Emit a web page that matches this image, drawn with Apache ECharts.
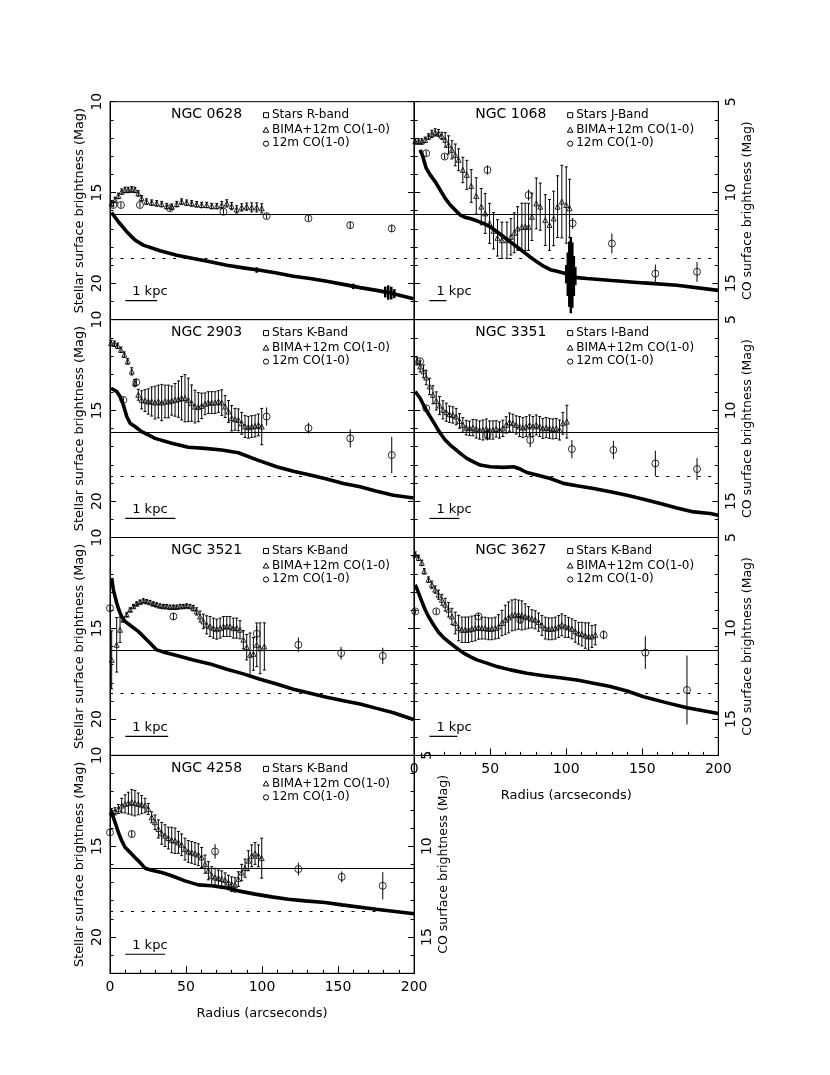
<!DOCTYPE html>
<html><head><meta charset="utf-8">
<script src="https://cdn.jsdelivr.net/npm/echarts@6/dist/echarts.min.js"></script>
<style>html,body{margin:0;padding:0;background:#fff}#c{width:830px;height:1075px}</style>
</head><body><div id="c"></div>
<script>
// ---------------- DATA ----------------
const galaxyNames = ['NGC 0628','NGC 1068','NGC 2903','NGC 3351','NGC 3521','NGC 3627','NGC 4258'];
const starBands = ['Stars R-band','Stars J-Band','Stars K-Band','Stars I-Band','Stars K-Band','Stars K-Band','Stars K-Band'];
const kpcArcsec = [21, 11.2, 33, 19.7, 28.3, 18.4, 26.3];
const xTicks = [0, 50, 100, 150, 200];
const stellarTicks = [10, 15, 20];
const coTicks = [5, 10, 15];
const solidMag = 16.2, dottedMag = 18.6, scaleBarMag = 20.95, scaleBarStart = 10;

// Stellar profiles [radius arcsec, mag]
const stars0628 = [[1,16.1],[2.2,16.24],[5.5,16.61],[11,17.16],[16.4,17.62],[21.9,17.9],[32.9,18.21],[43.9,18.45],[54.8,18.64],[65.8,18.82],[76.8,19.01],[87.7,19.15],[98.7,19.28],[109.6,19.43],[120.6,19.61],[131.6,19.74],[142.5,19.89],[153.5,20.06],[164.5,20.24],[175.4,20.39],[186.4,20.57],[199.6,20.85]];
const stars1068 = [[3.9,12.65],[5.7,13.02],[6.6,13.3],[7.9,13.66],[10.5,14.03],[13.8,14.4],[17.1,14.86],[20.4,15.32],[23.7,15.69],[27,15.97],[30.3,16.24],[33.6,16.37],[36.8,16.43],[41.2,16.56],[45.6,16.7],[50,16.89],[54.4,17.16],[58.8,17.44],[63.2,17.72],[67.5,17.99],[71.9,18.27],[76.3,18.55],[80.7,18.82],[85.1,19.06],[89.5,19.25],[93.9,19.34],[98.2,19.43],[102.6,19.56],[107,19.69],[113.6,19.74],[130,19.85],[150.9,19.98],[172.8,20.11],[200,20.39]];
const stars2903 = [[0.7,13.78],[4.4,13.96],[6.6,14.24],[8.8,14.7],[11,15.34],[13.2,15.71],[16.4,15.89],[20.8,16.17],[25.2,16.35],[29.6,16.54],[40.6,16.81],[51.5,17.03],[62.5,17.09],[73.5,17.18],[84.4,17.33],[97.6,17.75],[109.6,18.1],[120.6,18.35],[131.6,18.56],[142.5,18.78],[153.5,19.02],[164.5,19.21],[175.4,19.45],[186.4,19.67],[199.6,19.82]];
const stars3351 = [[0.7,13.96],[3.9,14.33],[7.2,14.88],[10.5,15.34],[13.8,15.8],[17.1,16.26],[20.4,16.63],[23.7,16.91],[27,17.13],[30.3,17.37],[34.6,17.64],[39,17.83],[43.4,18.01],[50,18.1],[58.8,18.14],[65.4,18.1],[69.7,18.23],[74.1,18.42],[80.7,18.56],[89.5,18.75],[98.2,19.02],[107,19.15],[118,19.3],[129,19.48],[140,19.67],[150.9,19.89],[161.8,20.13],[172.8,20.37],[183.8,20.59],[194.7,20.68],[200,20.77]];
const stars3521 = [[1.1,12.23],[2.2,12.87],[3.3,13.24],[4.4,13.61],[5.5,13.89],[6.6,14.16],[7.7,14.35],[9.9,14.62],[14.3,14.9],[18.6,15.17],[23,15.54],[27.4,15.91],[30.7,16.19],[36.2,16.33],[43.9,16.5],[54.8,16.74],[65.8,16.96],[76.8,17.26],[87.7,17.51],[98.7,17.81],[109.6,18.07],[120.6,18.36],[131.6,18.58],[142.5,18.8],[153.5,18.99],[164.5,19.17],[175.4,19.41],[186.4,19.65],[199.6,20.02]];
const stars3627 = [[0.7,12.6],[2.9,13.06],[5,13.52],[7.2,13.98],[9.4,14.35],[12.7,14.81],[16,15.22],[19.3,15.51],[23.7,15.82],[28.1,16.1],[32.5,16.37],[36.8,16.56],[41.2,16.74],[47.8,16.92],[54.4,17.11],[63.2,17.29],[74.1,17.48],[85.1,17.61],[96,17.72],[107,17.85],[118,18.03],[129,18.2],[140,18.45],[150.9,18.77],[165,19.08],[179.4,19.38],[200,19.69]];
const stars4258 = [[0.7,13.13],[2.2,13.41],[3.7,13.78],[5.5,14.24],[7.7,14.7],[9.9,15.06],[13.2,15.34],[16.4,15.62],[19.7,15.89],[23,16.21],[27.4,16.32],[34,16.45],[40.6,16.63],[49.3,16.91],[58.1,17.13],[66.9,17.18],[75.7,17.28],[84.4,17.46],[95.4,17.64],[106.4,17.79],[117.3,17.92],[128.3,18.01],[141.4,18.1],[152.4,18.23],[175,18.47],[200,18.72]];

// Stellar profile error bars [radius, mag, err]
const starErr0628 = [[96.5,19.27,0.15],[160,20.17,0.15],[181,20.48,0.3],[183,20.51,0.4],[185,20.54,0.35],[187,20.57,0.25]];
const starErr1068 = [[100,19.5,0.5],[101,19.5,1.2],[102,19.5,1.8],[103,19.55,2.1],[104,19.55,1.8],[105,19.6,1.1],[106,19.6,0.5]];

// BIMA+12m CO(1-0) [radius, CO mag, err]
const bima0628 = [[1.1,10.6,0.15],[3.3,10.41,0.15],[5.5,10.19,0.15],[7.7,9.95,0.15],[9.9,9.86,0.15],[12,9.86,0.15],[14.3,9.83,0.15],[16.4,9.86,0.15],[18.6,10.05,0.15],[20.8,10.32,0.15],[24,10.5,0.15],[27.4,10.56,0.15],[30.7,10.6,0.15],[34,10.64,0.15],[37.3,10.75,0.15],[40.6,10.78,0.15],[43.9,10.64,0.15],[47.1,10.5,0.15],[50.4,10.56,0.15],[53.7,10.6,0.15],[57,10.65,0.15],[60.3,10.69,0.15],[63.6,10.69,0.15],[66.9,10.75,0.15],[70.2,10.75,0.15],[73.5,10.69,0.2],[76.8,10.6,0.2],[80,10.75,0.2],[83.3,10.93,0.2],[86.6,10.82,0.2],[89.9,10.78,0.2],[93.2,10.82,0.25],[96.5,10.82,0.25],[99.8,10.87,0.25]];
const bima1068 = [[0.7,7.19,0.15],[2.9,7.19,0.15],[5,7.19,0.15],[7.2,7.1,0.15],[9.4,6.92,0.15],[11.6,6.77,0.2],[13.8,6.69,0.2],[16,6.73,0.2],[18.2,6.88,0.2],[20.4,7.1,0.4],[22.6,7.38,0.5],[24.8,7.65,0.5],[27,7.93,0.6],[29.2,8.2,0.6],[32,8.76,0.7],[34.6,9.03,0.8],[37.5,9.64,0.9],[40.8,10.19,1.0],[44.1,10.78,1.0],[46.7,11.15,1.1],[49.6,11.7,1.1],[52.2,12.11,1.0],[54.8,12.5,1.0],[57.7,12.63,1.0],[61,12.63,1.0],[63.6,12.44,1.0],[65.8,12.22,1.1],[68,11.98,1.2],[70.8,11.89,1.3],[73,11.89,1.3],[75.2,11.89,1.3],[77.4,11.34,1.3],[80.3,10.6,1.4],[82.9,10.78,1.3],[86.2,11.52,1.4],[89,11.79,1.4],[91.7,11.43,1.5],[94.3,10.78,1.7],[97.1,10.5,2.0],[100,10.69,2.1],[102.2,10.87,1.6]];
const bima2903 = [[0.7,6.29,0.15],[2.9,6.33,0.15],[5,6.44,0.15],[7.2,6.66,0.15],[9.4,6.93,0.15],[11.6,7.3,0.15],[14.3,7.85,0.2],[16.4,8.5,0.2],[18.6,9.14,0.3],[20.8,9.42,0.5],[23,9.46,0.6],[25.2,9.51,0.7],[27.4,9.51,0.8],[29.6,9.57,0.9],[31.8,9.51,0.9],[34,9.57,1.0],[36.2,9.51,0.9],[38.4,9.51,0.9],[40.6,9.46,0.8],[42.8,9.42,0.9],[45,9.38,1.0],[47.1,9.33,1.2],[49.3,9.33,1.3],[51.5,9.42,1.2],[53.7,9.6,1.0],[55.9,9.79,0.9],[58.1,9.82,0.8],[60.3,9.75,0.7],[62.5,9.64,0.6],[64.7,9.57,0.6],[66.9,9.57,0.6],[69.1,9.57,0.6],[71.3,9.51,0.6],[73.5,9.57,0.7],[75.7,9.79,0.6],[77.9,10.06,0.6],[80,10.43,0.7],[82.2,10.49,0.6],[84.4,10.52,0.6],[86.6,10.71,0.6],[88.8,10.89,0.6],[91,10.93,0.6],[93.2,10.89,0.6],[95.4,10.86,0.6],[97.6,10.8,0.6],[99.8,10.89,1.0]];
const bima3351 = [[1.8,7.3,0.2],[3.9,7.58,0.3],[6.1,7.85,0.35],[7.9,8.19,0.4],[10.1,8.68,0.45],[12.3,9.14,0.5],[14.5,9.48,0.5],[16.7,9.73,0.5],[18.9,9.97,0.5],[21.1,10.1,0.5],[23.2,10.21,0.45],[25.4,10.25,0.45],[27.6,10.34,0.45],[29.8,10.58,0.4],[32,10.8,0.4],[34.2,10.95,0.4],[36.4,10.99,0.4],[38.6,10.95,0.45],[40.8,11.02,0.5],[43,11.08,0.5],[45.2,11.08,0.55],[47.4,11.02,0.55],[49.6,11.08,0.5],[51.8,11.08,0.5],[53.9,11.02,0.45],[56.1,11.08,0.45],[58.3,10.99,0.45],[60.5,10.8,0.45],[62.7,10.65,0.5],[64.9,10.71,0.5],[67.1,10.8,0.5],[69.3,10.89,0.55],[71.5,10.95,0.55],[73.7,10.89,0.55],[75.9,10.8,0.55],[78.1,10.89,0.55],[80.3,10.8,0.55],[82.5,10.89,0.55],[84.6,10.99,0.55],[86.8,10.95,0.55],[89,10.99,0.55],[91.2,11.02,0.55],[93.4,11.0,0.55],[95.6,11.08,0.55],[97.8,10.71,0.6],[100.4,10.62,0.9]];
const bima3521 = [[1.1,11.74,1.6],[4.4,10.91,1.5],[6.6,10.08,0.7],[8.8,9.53,0.1],[11,9.25,0.1],[13.2,8.98,0.1],[15.4,8.79,0.1],[17.5,8.65,0.1],[19.7,8.55,0.1],[21.9,8.48,0.1],[24.1,8.52,0.1],[26.3,8.57,0.1],[28.5,8.65,0.1],[30.7,8.7,0.1],[32.9,8.76,0.1],[35.1,8.79,0.1],[37.3,8.79,0.1],[39.5,8.83,0.1],[41.7,8.83,0.1],[43.9,8.83,0.1],[46.1,8.79,0.1],[48.2,8.79,0.1],[50.4,8.76,0.1],[52.6,8.79,0.1],[54.8,8.89,0.15],[57,9.07,0.2],[59.2,9.35,0.3],[61.4,9.62,0.4],[63.6,9.81,0.5],[65.8,9.9,0.55],[68,9.99,0.55],[70.2,10.05,0.55],[72.4,9.99,0.55],[74.6,9.9,0.55],[76.8,9.9,0.55],[78.9,9.9,0.55],[81.1,9.99,0.55],[83.3,9.99,0.55],[85.5,10.08,0.5],[87.7,10.63,0.5],[89.9,11.04,0.7],[92.1,11.46,1.2],[94.3,11.41,0.9],[96.5,10.91,1.2],[98.7,11.1,1.4],[101.5,11.0,1.3]];
const bima3627 = [[0.7,5.94,0.15],[2.9,6.12,0.15],[5,6.4,0.15],[6.6,6.86,0.15],[9.4,7.32,0.15],[11.6,7.6,0.2],[13.8,7.87,0.2],[16,8.15,0.25],[18.2,8.43,0.3],[20.4,8.7,0.35],[22.6,8.98,0.4],[24.8,9.35,0.45],[27,9.71,0.6],[29.2,9.99,0.7],[31.4,10.08,0.7],[33.6,10.08,0.7],[35.7,10.08,0.7],[37.9,10.03,0.7],[40.1,9.99,0.7],[42.3,9.95,0.65],[44.5,9.99,0.6],[46.7,9.99,0.6],[48.9,10.03,0.6],[51.1,10.03,0.6],[53.3,9.99,0.6],[55.5,9.9,0.65],[57.7,9.71,0.7],[59.9,9.53,0.8],[62.1,9.4,0.85],[64.3,9.29,0.85],[66.4,9.25,0.85],[68.6,9.25,0.8],[70.8,9.29,0.8],[73,9.35,0.7],[75.2,9.4,0.6],[77.4,9.48,0.5],[79.6,9.53,0.5],[81.8,9.66,0.5],[84,9.84,0.55],[86.2,9.99,0.6],[88.4,10.03,0.6],[90.6,10.03,0.6],[92.8,9.99,0.6],[95,9.9,0.6],[97.1,9.81,0.6],[99.3,9.9,0.6],[101.5,9.95,0.55],[103.7,10.03,0.55],[105.9,10.17,0.6],[108.1,10.27,0.6],[110.3,10.32,0.65],[112.5,10.4,0.7],[114.7,10.45,0.75],[116.9,10.45,0.6],[119.1,10.36,0.55]];
const bima4258 = [[1.1,8.13,0.2],[3.3,8.08,0.2],[5.5,7.95,0.25],[7.7,7.76,0.4],[9.9,7.67,0.5],[12.1,7.63,0.6],[14.3,7.58,0.7],[16.4,7.63,0.7],[18.6,7.67,0.6],[20.8,7.71,0.5],[23,7.76,0.4],[25.2,7.95,0.3],[27.4,8.41,0.3],[29.6,8.68,0.4],[31.8,9.05,0.5],[34,9.29,0.6],[36.2,9.42,0.6],[38.4,9.55,0.6],[40.6,9.66,0.7],[42.8,9.7,0.7],[45,9.79,0.6],[47.1,9.92,0.6],[49.3,10.16,0.6],[51.5,10.29,0.6],[53.7,10.34,0.6],[55.9,10.4,0.6],[58.1,10.47,0.6],[60.3,10.62,0.55],[62.5,10.99,0.5],[64.7,11.35,0.5],[66.9,11.63,0.5],[69.1,11.72,0.5],[71.3,11.76,0.45],[73.5,11.81,0.45],[75.7,11.87,0.4],[77.9,12.0,0.4],[80,12.09,0.4],[82.2,12.13,0.4],[84.4,11.81,0.4],[86.6,11.45,0.45],[88.8,11.21,0.5],[91,10.8,0.55],[93.2,10.53,0.6],[95.4,10.4,0.6],[97.6,10.53,0.6],[99.8,10.66,1.1]];

// 12m CO(1-0) [radius, CO mag, err]
const co12m0628 = [[2.2,10.69,0.15],[7.2,10.69,0.15],[19.7,10.69,0.15],[39.5,10.87,0.15],[74.6,11.06,0.15],[103,11.3,0.15],[130.5,11.43,0.15],[158,11.8,0.2],[185.3,11.98,0.2]];
const co12m1068 = [[7.9,7.84,0.15],[20,8.02,0.15],[48.2,8.76,0.25],[75.2,10.14,0.3],[104.2,11.7,0.3],[130,12.81,0.55],[158.6,14.47,0.5],[186,14.37,0.55]];
const co12m2903 = [[8.8,9.42,0.15],[17.3,8.45,0.2],[103,10.34,0.5],[130.5,10.98,0.3],[158,11.54,0.5],[185.3,12.46,1.0]];
const co12m3351 = [[3.9,7.3,0.15],[7.9,9.88,0.15],[48.2,11.35,0.3],[76.3,11.63,0.4],[103.7,12.13,0.5],[131,12.18,0.5],[158.6,12.92,0.7],[186,13.23,0.6]];
const co12m3521 = [[0,8.89,0.15],[41.7,9.35,0.2],[96.5,10.3,0.4],[123.9,10.91,0.4],[152,11.37,0.35],[179.4,11.52,0.45]];
const co12m3627 = [[0.7,9.07,0.15],[14.5,9.07,0.15],[42.3,9.35,0.2],[69.7,9.53,0.2],[124.6,10.36,0.25],[152,11.34,0.9],[179.4,13.4,1.9]];
const co12m4258 = [[0,9.24,0.15],[14.3,9.33,0.2],[69.1,10.29,0.4],[123.9,11.26,0.35],[152.4,11.69,0.3],[179.4,12.18,0.75]];

const starsAll = [stars0628, stars1068, stars2903, stars3351, stars3521, stars3627, stars4258];
const starErrAll = [starErr0628, starErr1068, [], [], [], [], []];
const bimaAll = [bima0628, bima1068, bima2903, bima3351, bima3521, bima3627, bima4258];
const co12mAll = [co12m0628, co12m1068, co12m2903, co12m3351, co12m3521, co12m3627, co12m4258];

// ---------------- LAYOUT ----------------
const FONT = 'DejaVu Sans';
const colLeft = [110, 414.2];
const rowTop = [101.7, 319.6, 537.5, 755.4];
const PW = 304.1, PH = 217.9;
const panelPos = [[0,0],[1,0],[0,1],[1,1],[0,2],[1,2],[0,3]];
const bottomPanels = [5, 6];

function errRender(lw, cap) {
  return function (params, api) {
    const x = api.value(0), y = api.value(1), e = api.value(2);
    const a = api.coord([x, y - e]), b = api.coord([x, y + e]);
    const st = { stroke: '#000', lineWidth: lw };
    const ch = [{ type: 'line', shape: { x1: a[0], y1: a[1], x2: b[0], y2: b[1] }, style: st }];
    if (cap > 0) {
      ch.push({ type: 'line', shape: { x1: a[0] - cap, y1: a[1], x2: a[0] + cap, y2: a[1] }, style: st });
      ch.push({ type: 'line', shape: { x1: b[0] - cap, y1: b[1], x2: b[0] + cap, y2: b[1] }, style: st });
    }
    return { type: 'group', children: ch };
  };
}

const grids = [], xAxes = [], yAxes = [], series = [], scaleIdx = [];
const tickStyle = { color: '#000', width: 1 };

galaxyNames.forEach((g, i) => {
  const [c, r] = panelPos[i];
  const bottom = bottomPanels.includes(i);
  grids.push({ left: colLeft[c], top: rowTop[r], width: PW, height: PH, show: true, borderColor: '#000', borderWidth: 1, backgroundColor: 'transparent' });
  xAxes.push({
    gridIndex: i, type: 'value', min: xTicks[0], max: xTicks[xTicks.length - 1], interval: xTicks[1] - xTicks[0],
    axisLine: { show: true, lineStyle: tickStyle },
    axisTick: { show: bottom, inside: true, length: 7, lineStyle: tickStyle },
    minorTick: { show: bottom, splitNumber: 5, length: 3.5, lineStyle: tickStyle },
    splitLine: { show: false },
    axisLabel: { show: bottom, margin: 7, fontSize: 14, color: '#000', fontFamily: FONT },
    name: bottom ? 'Radius (arcseconds)' : '', nameLocation: 'middle', nameGap: 34,
    nameTextStyle: { fontSize: 13, color: '#000', fontFamily: FONT }
  });
  const leftLabels = c === 0;
  const rightLabels = c === 1 || i === 6;
  yAxes.push({
    gridIndex: i, type: 'value', inverse: true, position: 'left',
    min: stellarTicks[0], max: 22, interval: stellarTicks[1] - stellarTicks[0],
    axisLine: { show: true, lineStyle: tickStyle },
    axisTick: { show: true, inside: true, length: 6, lineStyle: tickStyle },
    minorTick: { show: true, splitNumber: 5, length: 3.5, lineStyle: tickStyle },
    splitLine: { show: false },
    axisLabel: { show: leftLabels, showMaxLabel: false, rotate: 90, margin: 6, fontSize: 14, color: '#000', fontFamily: FONT,
      formatter: v => stellarTicks.includes(v) ? String(v) : '' },
    name: leftLabels ? 'Stellar surface brightness (Mag)' : '', nameLocation: 'middle', nameGap: 24,
    nameTextStyle: { fontSize: 12.8, color: '#000', fontFamily: FONT }
  });
  yAxes.push({
    gridIndex: i, type: 'value', inverse: true, position: 'right',
    min: coTicks[0], max: 17, interval: coTicks[1] - coTicks[0],
    axisLine: { show: true, lineStyle: tickStyle },
    axisTick: { show: true, inside: true, length: 6, lineStyle: tickStyle },
    minorTick: { show: true, splitNumber: 5, length: 3.5, lineStyle: tickStyle },
    splitLine: { show: false },
    axisLabel: { show: rightLabels, showMaxLabel: false, rotate: 90, margin: 6, fontSize: 14, color: '#000', fontFamily: FONT,
      formatter: v => coTicks.includes(v) ? String(v) : '' },
    name: rightLabels ? 'CO surface brightness (Mag)' : '', nameLocation: 'middle', nameGap: 23,
    nameTextStyle: { fontSize: 12.5, color: '#000', fontFamily: FONT }
  });
  const yL = 2 * i, yR = 2 * i + 1;
  series.push({
    type: 'line', xAxisIndex: i, yAxisIndex: yL, data: starsAll[i], showSymbol: false, symbol: 'none',
    lineStyle: { color: '#000', width: 3.6 }, z: 3,
    markLine: {
      silent: true, symbol: ['none', 'none'], label: { show: false },
      data: [
        { yAxis: solidMag, lineStyle: { color: '#000', width: 1, type: 'solid' } },
        { yAxis: dottedMag, lineStyle: { color: '#000', width: 1, type: [3, 7.5] } }
      ]
    }
  });
  if (starErrAll[i].length) {
    series.push({ type: 'custom', xAxisIndex: i, yAxisIndex: yL, data: starErrAll[i], encode: { x: 0, y: 1 }, renderItem: errRender(2.5, 0), z: 3 });
  }
  series.push({ type: 'custom', xAxisIndex: i, yAxisIndex: yR, data: bimaAll[i], encode: { x: 0, y: 1 }, renderItem: errRender(1, 1.5), z: 4 });
  series.push({ type: 'scatter', xAxisIndex: i, yAxisIndex: yR, data: bimaAll[i].map(d => [d[0], d[1]]), symbol: 'triangle', symbolSize: 5,
    itemStyle: { color: 'rgba(0,0,0,0)', borderColor: '#000', borderWidth: 1 }, z: 5 });
  series.push({ type: 'custom', xAxisIndex: i, yAxisIndex: yR, data: co12mAll[i], encode: { x: 0, y: 1 }, renderItem: errRender(1, 0), z: 4 });
  series.push({ type: 'scatter', xAxisIndex: i, yAxisIndex: yR, data: co12mAll[i].map(d => [d[0], d[1]]), symbol: 'circle', symbolSize: 7,
    itemStyle: { color: 'rgba(0,0,0,0)', borderColor: '#000', borderWidth: 1 }, z: 5 });
  scaleIdx.push(series.length);
  series.push({ type: 'line', xAxisIndex: i, yAxisIndex: yL, data: [[scaleBarStart, scaleBarMag], [scaleBarStart + kpcArcsec[i], scaleBarMag]],
    showSymbol: false, symbol: 'none', lineStyle: { color: '#000', width: 1.2 }, z: 3 });
});

const chart = echarts.init(document.getElementById('c'), null, { renderer: 'canvas' });
chart.setOption({
  animation: false,
  backgroundColor: '#fff',
  grid: grids, xAxis: xAxes, yAxis: yAxes, series: series
});

// Text annotations
const graphics = [];
const legendOff = [13, 28, 41.5];
galaxyNames.forEach((g, i) => {
  const [c, r] = panelPos[i];
  const L = colLeft[c], T = rowTop[r];
  graphics.push({ type: 'text', x: L + 61, y: T + legendOff[0], style: { text: g, font: '14px "' + FONT + '"', fill: '#000', textAlign: 'left', textVerticalAlign: 'middle' } });
  const labels = [starBands[i], 'BIMA+12m CO(1-0)', '12m CO(1-0)'];
  labels.forEach((t, k) => {
    graphics.push({ type: 'text', x: L + 162, y: T + legendOff[k], style: { text: t, font: '12px "' + FONT + '"', fill: '#000', textAlign: 'left', textVerticalAlign: 'middle' } });
  });
  const sx = L + 156;
  graphics.push({ type: 'rect', shape: { x: sx - 2.5, y: T + legendOff[0] - 2, width: 5, height: 5 }, style: { fill: 'none', stroke: '#000', lineWidth: 1 } });
  graphics.push({ type: 'polygon', shape: { points: [[sx, T + legendOff[1] - 2.5], [sx - 2.8, T + legendOff[1] + 2.5], [sx + 2.8, T + legendOff[1] + 2.5]] }, style: { fill: 'none', stroke: '#000', lineWidth: 1 } });
  graphics.push({ type: 'circle', shape: { cx: sx, cy: T + legendOff[2] + 0.5, r: 2.6 }, style: { fill: 'none', stroke: '#000', lineWidth: 1 } });
  const p = chart.convertToPixel({ seriesIndex: scaleIdx[i] }, [scaleBarStart, scaleBarMag]);
  graphics.push({ type: 'text', x: p[0] + 7, y: p[1] - 9, style: { text: '1 kpc', font: '13px "' + FONT + '"', fill: '#000', textAlign: 'left', textVerticalAlign: 'middle' } });
});
chart.setOption({ graphic: graphics });
</script>
</body></html>
